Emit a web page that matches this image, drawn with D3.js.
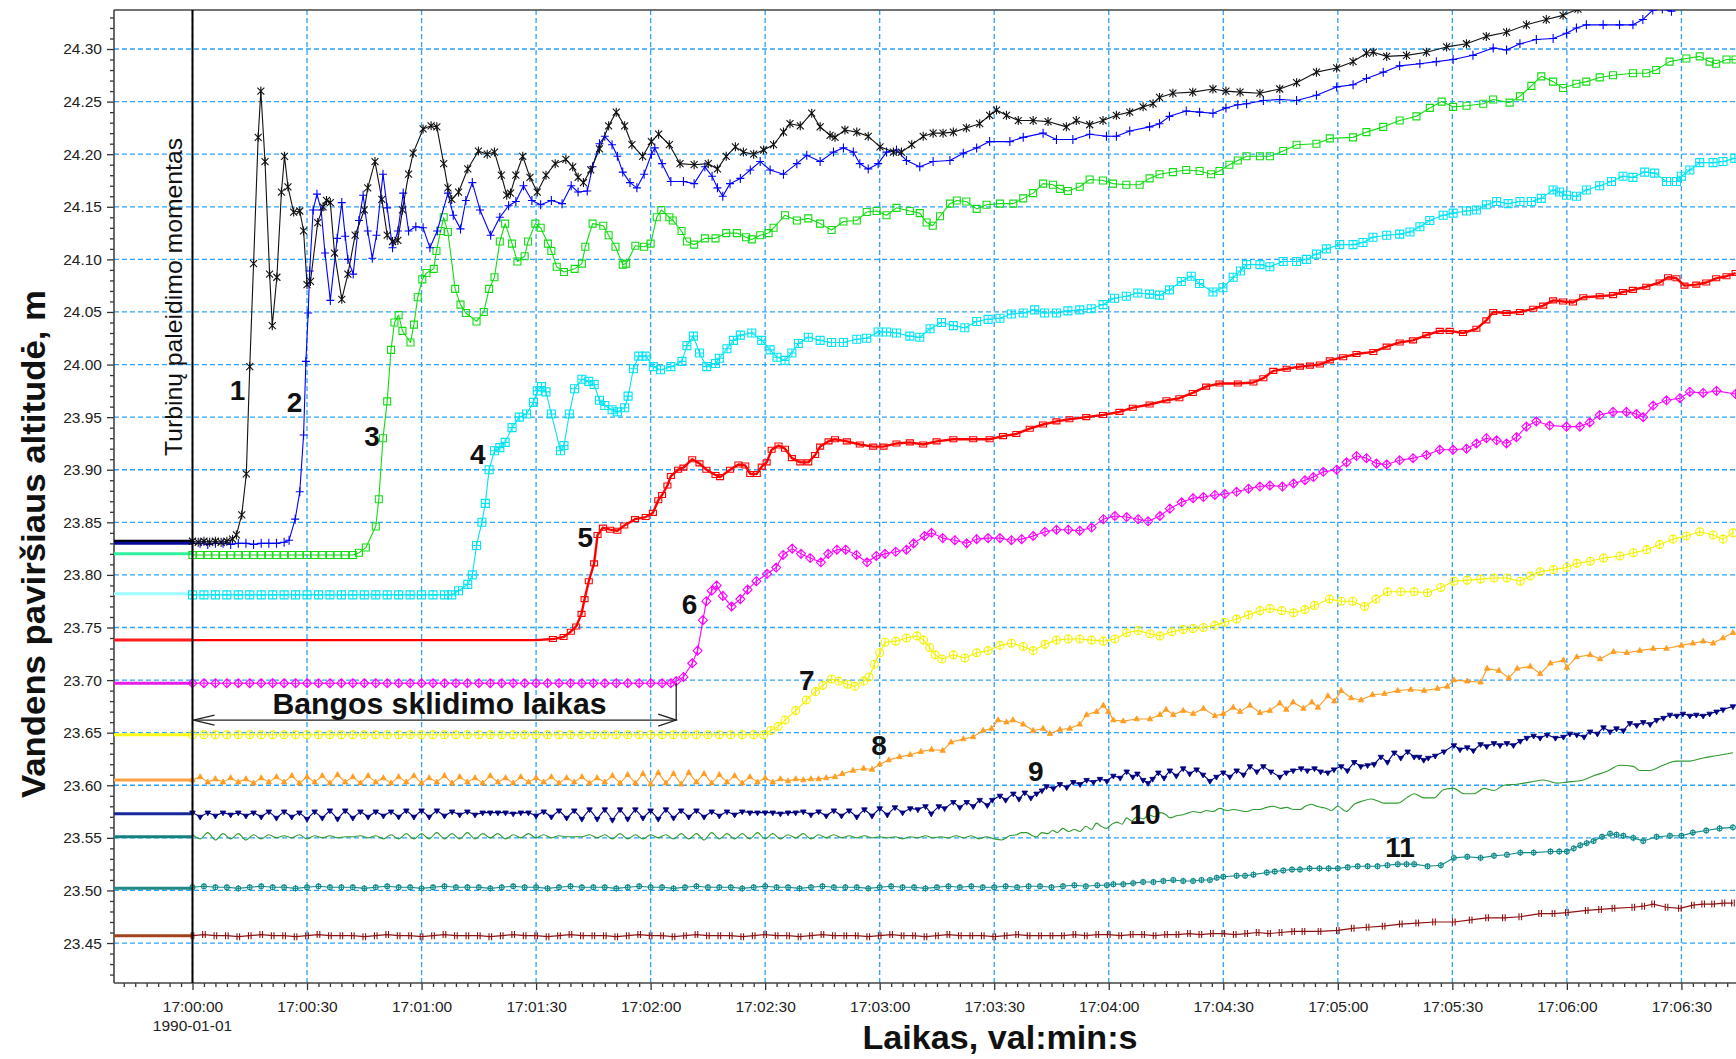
<!DOCTYPE html>
<html>
<head>
<meta charset="utf-8">
<script src="https://cdn.jsdelivr.net/npm/d3@7"></script>
<style>
  html, body { margin: 0; padding: 0; background: #fff; }
  svg { display: block; font-family: "Liberation Sans", Arial, sans-serif; }
</style>
</head>
<body>
<svg id="chart" width="1736" height="1059"></svg>
<script>
// Water surface level at gauges 1–12 after the turbine start (17:00:00).
// Time is in seconds after 17:00:00, level in metres.
// Each gauge: a steady "lead" part sampled at a fixed step from t = 0, then the recorded "trend" points.

const leadStep = [1.5, 2, 2, 3, 30, 3, 3, 2, 2, 2, 3, 3];
const stubLevels = [23.832, 23.830, 23.820, 23.782, 23.738, 23.697, 23.648, 23.605, 23.573, 23.551, 23.502, 23.457];

const lead1 = [23.832,23.831,23.832,23.831,23.832,23.831,23.832,23.834];
const trend1 = [[11.5,23.838],[12.9,23.857],[14.1,23.896],[15.0,23.998],[16.0,24.096],[17.2,24.216],[17.9,24.26],[19.0,24.193],[20.2,24.086],[20.9,24.037],[22.1,24.083],[23.3,24.164],[24.1,24.198],[25.0,24.169],[26.5,24.145],[28.1,24.146],[29.1,24.127],[30.0,24.076],[30.9,24.079],[32.8,24.135],[34.2,24.15],[35.1,24.156],[36.1,24.154],[37.2,24.106],[39.1,24.062],[40.7,24.086],[42.6,24.123],[45.0,24.147],[45.9,24.168],[47.8,24.193],[49.6,24.157],[51.0,24.123],[52.4,24.117],[53.8,24.118],[55.0,24.147],[56.6,24.181],[57.8,24.201],[60.4,24.224],[62.5,24.227],[64.0,24.226],[65.8,24.191],[66.9,24.168],[67.9,24.157],[69.7,24.164],[72.1,24.186],[74.9,24.203],[77.2,24.2],[79.1,24.202],[80.9,24.18],[82.3,24.161],[83.3,24.163],[84.7,24.18],[86.5,24.198],[88.4,24.178],[90.3,24.164],[92.6,24.18],[95.0,24.191],[97.8,24.195],[99.6,24.188],[101.0,24.178],[102.4,24.173],[104.3,24.185],[106.6,24.205],[109.0,24.227],[111.0,24.24],[113.2,24.227],[115.1,24.209],[117.9,24.198],[120.2,24.212],[122.1,24.219],[124.9,24.209],[127.7,24.191],[131.4,24.19],[135.1,24.191],[137.5,24.186],[139.8,24.198],[142.2,24.207],[144.3,24.202],[147,24.2],[149.6,24.204],[152.2,24.209],[154.8,24.221],[156.5,24.229],[159.2,24.227],[162.2,24.239],[164.4,24.226],[167,24.218],[168.3,24.216],[170.9,24.223],[174,24.221],[177,24.217],[180.1,24.207],[183.6,24.202],[185.7,24.202],[188.4,24.209],[191.4,24.217],[194,24.22],[196.6,24.22],[199.3,24.221],[202.7,24.225],[206.2,24.229],[208.8,24.237],[210.6,24.242],[213.2,24.237],[216.3,24.232],[220.2,24.232],[224.1,24.231],[228.9,24.226],[231.5,24.232],[235,24.228],[238.5,24.232],[242,24.237],[245.5,24.24],[249,24.245],[251.6,24.248],[253.3,24.254],[256.8,24.258],[262,24.259],[267.3,24.262],[270.7,24.26],[274.4,24.259],[279.6,24.258],[284.8,24.262],[289.2,24.268],[294.4,24.278],[299.7,24.282],[304,24.288],[307.5,24.296],[309.3,24.297],[312.8,24.293],[318,24.294],[323.2,24.297],[328.5,24.302],[333.7,24.305],[338.9,24.312],[344.2,24.316],[349.4,24.323],[354.6,24.328],[359,24.332],[362.9,24.338],[366,24.342]];

const lead2 = [23.830,23.830,23.829,23.830,23.830,23.829,23.830,23.830,23.829,23.830,23.830,23.830,23.831];
const trend2 = [[25.3,23.833],[26.9,23.853],[28.1,23.879],[29.1,23.933],[29.7,24.003],[30.3,24.049],[30.7,24.089],[31.6,24.147],[32.6,24.162],[33.7,24.147],[34.7,24.106],[36.1,24.061],[37.9,24.12],[39.1,24.154],[40.0,24.122],[40.7,24.1],[42.1,24.086],[43.6,24.137],[44.7,24.161],[45.9,24.127],[47.1,24.101],[48.2,24.123],[49.9,24.181],[51.0,24.149],[52.4,24.111],[53.8,24.127],[55.2,24.163],[56.6,24.127],[58.5,24.131],[60.4,24.13],[62.2,24.111],[64.1,24.127],[66.9,24.163],[68.3,24.142],[70.2,24.129],[71.6,24.156],[73.3,24.173],[75.3,24.147],[78.1,24.123],[80.5,24.14],[82.8,24.151],[84.7,24.155],[86.7,24.17],[88.9,24.156],[91.2,24.152],[94.0,24.156],[96.8,24.153],[99.2,24.17],[101.0,24.164],[103.4,24.165],[104.8,24.188],[106.6,24.21],[108.0,24.217],[109.9,24.209],[111.3,24.198],[112.7,24.183],[114.6,24.173],[116.4,24.168],[118.3,24.181],[120.2,24.2],[121.1,24.206],[123,24.191],[125.3,24.174],[128.6,24.174],[131.4,24.172],[134.2,24.188],[136.1,24.179],[137.5,24.168],[138.9,24.16],[140.8,24.172],[143.5,24.177],[146.1,24.185],[148.7,24.193],[151.3,24.185],[154.8,24.181],[158.3,24.191],[160.9,24.199],[164.4,24.193],[167.9,24.202],[170.5,24.206],[173.1,24.202],[174.8,24.191],[177,24.186],[179.6,24.191],[181.8,24.202],[184.4,24.204],[187,24.194],[190.5,24.188],[194,24.193],[198.4,24.194],[201.9,24.201],[205.4,24.206],[208.8,24.212],[214.1,24.212],[217.6,24.216],[222.8,24.22],[226.3,24.214],[230.6,24.214],[235,24.219],[239.4,24.217],[242,24.217],[245.5,24.222],[250.7,24.226],[253.3,24.229],[255.9,24.236],[260.3,24.241],[263.8,24.24],[267.3,24.239],[270.7,24.244],[273.8,24.247],[276.1,24.248],[280.5,24.251],[284.8,24.252],[289.2,24.251],[294.4,24.256],[299.7,24.264],[304,24.266],[307.5,24.272],[311.9,24.278],[316.2,24.284],[321.5,24.286],[325.8,24.288],[330.2,24.29],[335.4,24.294],[340.7,24.301],[344.2,24.299],[347.7,24.305],[352,24.309],[356.4,24.31],[359.9,24.315],[362.5,24.32],[365.1,24.323],[369.5,24.323],[373.8,24.323],[377.3,24.323],[379.9,24.328],[382.5,24.337],[385,24.338],[387.4,24.336]];

const lead3 = [23.819,23.819,23.819,23.819,23.819,23.819,23.819,23.819,23.819,23.819,23.819,23.819,23.819,23.819,23.819,23.819,23.819,23.819,23.819,23.819,23.819,23.819];
const trend3 = [[43.6,23.821],[45.4,23.826],[48.0,23.846],[48.8,23.872],[49.9,23.93],[51.0,23.965],[52.0,24.014],[52.9,24.04],[54.0,24.047],[55.0,24.032],[57.1,24.021],[58.0,24.038],[59.0,24.064],[60.2,24.081],[61.3,24.087],[63.2,24.091],[63.9,24.108],[65.0,24.127],[65.8,24.14],[66.9,24.126],[68.8,24.072],[70.2,24.057],[71.6,24.049],[74.4,24.041],[76.3,24.05],[77.7,24.072],[79.1,24.083],[80.5,24.117],[81.9,24.134],[83.7,24.115],[85.1,24.098],[87,24.103],[87.9,24.117],[89.8,24.134],[91.2,24.13],[93.1,24.115],[94.0,24.108],[95.4,24.093],[97.3,24.088],[100.1,24.091],[102,24.096],[102.9,24.112],[104.8,24.134],[107.6,24.132],[109,24.123],[110.8,24.112],[112.7,24.095],[113.6,24.096],[116,24.113],[118.3,24.112],[120,24.115],[121.6,24.14],[122.8,24.147],[124.9,24.14],[125.8,24.137],[128.1,24.127],[129.5,24.117],[131.4,24.114],[134.2,24.12],[137,24.12],[139.8,24.125],[142.6,24.125],[145,24.121],[146.5,24.119],[148.7,24.123],[150.9,24.125],[152.2,24.13],[155.2,24.142],[158.3,24.137],[161.3,24.139],[164.4,24.134],[167.4,24.128],[170.5,24.136],[174,24.137],[176.6,24.145],[179.2,24.146],[181.8,24.142],[184.4,24.149],[187.9,24.146],[190.5,24.144],[192.3,24.135],[193.9,24.132],[195.8,24.141],[198.4,24.153],[200.2,24.156],[202.7,24.155],[205.4,24.148],[208,24.152],[211.5,24.153],[215,24.153],[217.6,24.158],[220.2,24.163],[222.8,24.172],[225.4,24.171],[227.2,24.167],[229.3,24.165],[232.4,24.169],[235,24.176],[238.5,24.175],[241.1,24.172],[244.6,24.171],[248.1,24.171],[250.7,24.177],[253.3,24.181],[256.8,24.183],[260.3,24.185],[263.8,24.184],[266.8,24.181],[269,24.184],[271.6,24.19],[273.8,24.194],[276.1,24.198],[279.6,24.198],[282.2,24.198],[285.7,24.203],[289.2,24.209],[294.4,24.21],[297.9,24.215],[304,24.216],[307.5,24.221],[311.9,24.226],[316.2,24.232],[320.6,24.236],[324.1,24.244],[327.2,24.25],[330.2,24.245],[333.7,24.246],[338.1,24.248],[340.7,24.252],[345,24.249],[347.7,24.255],[350.7,24.265],[353.3,24.274],[356.4,24.269],[359,24.263],[362.5,24.267],[365.1,24.269],[368.6,24.273],[372.1,24.275],[377.3,24.277],[380.8,24.277],[383.4,24.28],[386.9,24.288],[391.3,24.291],[394.8,24.293],[397.4,24.288],[399.1,24.286],[401.8,24.29],[404.2,24.29]];

const lead4 = [23.781,23.781,23.781,23.781,23.781,23.781,23.781,23.781,23.781,23.781,23.781,23.781,23.781,23.781,23.781,23.781,23.781,23.781,23.781,23.781,23.781,23.781,23.781];
const trend4 = [[67.9,23.781],[69.7,23.785],[72.1,23.791],[73.3,23.8],[74.4,23.828],[75.8,23.85],[76.7,23.868],[77.7,23.9],[79.1,23.918],[80.5,23.921],[81.9,23.926],[83.7,23.94],[85.6,23.95],[87.5,23.953],[89.3,23.964],[90.3,23.975],[91.4,23.979],[92.6,23.974],[94.0,23.953],[96.4,23.918],[97.3,23.923],[98.7,23.953],[100.1,23.977],[102,23.986],[103.8,23.984],[105.2,23.981],[106.6,23.966],[108,23.961],[109.9,23.957],[111.3,23.955],[113.2,23.959],[114.1,23.97],[115.5,23.996],[116.9,24.008],[118.8,24.008],[120.7,23.998],[122.6,23.995],[125.3,23.998],[128.2,24.003],[129.5,24.018],[131.2,24.027],[132.8,24.011],[134.7,23.998],[137,24.001],[138,24.006],[140,24.015],[141.7,24.023],[143.5,24.028],[146.5,24.03],[149.1,24.023],[151.3,24.014],[153.1,24.007],[155.2,24.004],[157,24.011],[158.7,24.02],[161.3,24.026],[164.4,24.023],[167.4,24.021],[170.5,24.021],[174,24.024],[176.6,24.025],[179.6,24.031],[181.8,24.031],[184.4,24.03],[187.9,24.027],[190.5,24.026],[193.2,24.034],[196.2,24.04],[199.3,24.037],[202.3,24.035],[205.4,24.041],[208.4,24.043],[211.5,24.044],[214.5,24.048],[217.6,24.049],[220.6,24.052],[223.2,24.049],[226.3,24.049],[229.3,24.051],[232.4,24.052],[235.4,24.053],[238.5,24.057],[241.5,24.063],[244.6,24.065],[247.6,24.068],[250.7,24.067],[253.3,24.066],[255.9,24.071],[259,24.079],[261.6,24.084],[263.8,24.077],[267.3,24.069],[269.9,24.073],[272.6,24.083],[274.5,24.089],[276.1,24.095],[279.6,24.095],[282.2,24.093],[285.7,24.098],[289.2,24.098],[291.8,24.1],[294.4,24.105],[297,24.11],[300.5,24.114],[304,24.114],[306.6,24.116],[309.2,24.121],[312.8,24.123],[316.2,24.124],[318.9,24.126],[321.5,24.131],[324.1,24.137],[327.6,24.142],[330.2,24.144],[333.7,24.146],[336.3,24.147],[338.9,24.152],[341.6,24.155],[344.6,24.153],[347.7,24.155],[350.7,24.155],[353.3,24.158],[356.4,24.166],[358.1,24.164],[359.9,24.161],[362.5,24.16],[365.1,24.166],[368.6,24.17],[371.7,24.174],[374.7,24.179],[377.3,24.178],[380.4,24.183],[383,24.182],[386.1,24.174],[388.7,24.174],[390,24.179],[392.2,24.185],[394.8,24.192],[398.3,24.192],[400.9,24.193],[404,24.196]];

const lead5 = [23.738,23.738,23.738,23.738];
const trend5 = [[94.4,23.739],[97.2,23.741],[99.1,23.746],[100.5,23.751],[101.9,23.763],[102.7,23.777],[103.8,23.794],[105.2,23.811],[106.1,23.838],[107.5,23.845],[109.4,23.843],[111.3,23.842],[113.1,23.847],[115.9,23.853],[118.7,23.855],[120.6,23.859],[122,23.871],[123,23.876],[124.4,23.885],[125.3,23.894],[127.2,23.9],[128.6,23.902],[130.9,23.91],[132.8,23.906],[134.6,23.9],[137,23.895],[138.2,23.893],[140.8,23.9],[143,23.905],[144.8,23.904],[146.1,23.896],[147.8,23.896],[149.1,23.903],[150.4,23.907],[151.7,23.919],[153.5,23.923],[155.2,23.92],[157,23.911],[159.2,23.907],[161.3,23.907],[163.1,23.914],[164.4,23.922],[166.6,23.927],[168.3,23.929],[171.4,23.927],[174.8,23.924],[178.3,23.922],[181,23.922],[184.4,23.925],[187.9,23.926],[191.4,23.924],[194.9,23.927],[199.3,23.929],[204.5,23.929],[208.8,23.929],[212.3,23.932],[215.8,23.934],[219.3,23.939],[222.8,23.943],[226.3,23.946],[229.7,23.948],[234.1,23.95],[238.5,23.952],[242.8,23.955],[246.3,23.959],[250.7,23.962],[255.1,23.966],[258.5,23.968],[262,23.973],[265.5,23.979],[269,23.982],[273.8,23.982],[277.9,23.983],[280.5,23.987],[283.1,23.994],[286.6,23.996],[290.1,23.998],[292.7,23.999],[295.3,24.0],[297.9,24.004],[301.4,24.007],[304.9,24.01],[309.3,24.012],[312.8,24.017],[316.2,24.021],[319.7,24.023],[323.2,24.028],[326.7,24.032],[329.3,24.032],[332.8,24.03],[336.3,24.034],[338.9,24.042],[340.7,24.05],[344.2,24.049],[347.7,24.05],[351.2,24.053],[353.8,24.056],[356.4,24.061],[359,24.06],[361.6,24.059],[364.3,24.064],[368.6,24.065],[372.1,24.066],[374.7,24.069],[377.3,24.071],[380.8,24.074],[384.3,24.078],[386.5,24.083],[388.7,24.082],[390.8,24.075],[393.9,24.076],[396.5,24.078],[399.1,24.082],[401.8,24.084],[404.2,24.087]];

const lead6 = [23.697,23.697,23.697,23.697,23.697,23.697,23.697,23.697,23.697,23.697,23.697,23.697,23.697,23.697,23.697,23.697,23.697,23.697,23.697,23.697,23.697,23.697,23.697,23.697,23.697,23.697,23.697,23.697,23.697,23.697,23.697,23.697,23.697,23.697,23.697,23.697,23.697,23.697,23.697,23.697,23.697,23.697];
const trend6 = [[125.3,23.697],[126.7,23.699],[128.6,23.703],[130.9,23.716],[132.3,23.728],[133.7,23.757],[134.6,23.775],[136,23.785],[137.3,23.79],[138.9,23.78],[141.2,23.77],[143.5,23.777],[145.4,23.786],[147.7,23.794],[150.5,23.801],[152.9,23.807],[154.7,23.819],[157.1,23.825],[159.4,23.82],[161.8,23.816],[164.6,23.812],[166.5,23.82],[168.8,23.824],[171.1,23.824],[173.9,23.819],[176.7,23.812],[179.1,23.818],[181.4,23.82],[184.2,23.822],[187,23.824],[188.9,23.83],[191.7,23.837],[193.6,23.84],[196.5,23.835],[199.7,23.833],[202.8,23.83],[205.4,23.834],[208.4,23.835],[211.5,23.835],[214.5,23.833],[217.2,23.834],[220.2,23.837],[223.3,23.841],[226.3,23.843],[229.4,23.843],[232.4,23.842],[235.5,23.845],[238.6,23.853],[241.6,23.856],[244.7,23.855],[247.7,23.853],[250.3,23.851],[253.4,23.856],[256,23.863],[259.1,23.869],[262.1,23.873],[264.8,23.874],[267.8,23.876],[270.4,23.877],[273.5,23.879],[276.6,23.882],[279.6,23.884],[282.2,23.885],[285.5,23.884],[288.4,23.887],[291.4,23.89],[293.6,23.893],[296.2,23.898],[299.7,23.9],[302.3,23.907],[304.9,23.913],[307.5,23.911],[310.1,23.906],[312.8,23.905],[316.2,23.909],[319.7,23.911],[323.2,23.914],[326.7,23.919],[330.2,23.919],[333.7,23.92],[336.3,23.925],[338.9,23.93],[341.6,23.928],[344.2,23.925],[346.8,23.931],[349.4,23.941],[352,23.946],[355.5,23.942],[359.9,23.941],[363.4,23.941],[366,23.945],[368.6,23.952],[372.1,23.955],[375.6,23.955],[378.2,23.953],[380,23.95],[382.6,23.961],[386.1,23.966],[389.6,23.968],[392.2,23.974],[395.7,23.973],[399.2,23.975],[404.2,23.972]];

const lead7 = [23.648,23.648,23.648,23.648,23.648,23.648,23.648,23.648,23.648,23.648,23.648,23.648,23.648,23.648,23.648,23.648,23.648,23.648,23.648,23.648,23.648,23.648,23.648,23.648,23.648,23.648,23.648,23.648,23.648,23.648,23.648,23.648,23.648,23.648,23.648,23.648,23.648,23.648,23.648,23.648,23.648,23.648,23.648,23.648,23.648,23.648,23.648,23.648,23.648,23.648];
const trend7 = [[149.6,23.648],[151.5,23.652],[153.4,23.656],[155.2,23.662],[158,23.671],[160.8,23.681],[163.2,23.689],[165.1,23.695],[167.4,23.701],[169.3,23.699],[171.6,23.696],[173.5,23.694],[175.8,23.699],[177.2,23.703],[178.6,23.715],[180,23.726],[181.4,23.736],[184.2,23.737],[187,23.74],[189.8,23.742],[191.5,23.738],[193.1,23.731],[194.5,23.724],[196.3,23.72],[199.3,23.724],[202.3,23.721],[205.4,23.726],[208.4,23.728],[211.5,23.733],[214.5,23.735],[217.6,23.732],[220.2,23.728],[223.3,23.734],[226.3,23.738],[229.4,23.739],[232.4,23.739],[235.5,23.738],[238.6,23.737],[241.6,23.739],[244.7,23.745],[247.7,23.747],[250.8,23.744],[253.4,23.742],[256.5,23.746],[259.5,23.748],[262.1,23.749],[264.8,23.75],[267.8,23.752],[270.4,23.755],[273.5,23.758],[276.6,23.762],[279.6,23.766],[282.2,23.768],[285.3,23.766],[288.4,23.764],[291.4,23.767],[293.9,23.771],[297.8,23.777],[300.9,23.775],[303.9,23.775],[307,23.77],[310,23.777],[313,23.784],[316.5,23.784],[320,23.784],[323.5,23.783],[327,23.788],[330.4,23.794],[333.9,23.795],[337.4,23.796],[340.9,23.797],[344.3,23.797],[347.8,23.794],[350.4,23.799],[353,23.803],[356.5,23.805],[360,23.807],[362.6,23.811],[366.1,23.813],[369.6,23.816],[373.9,23.818],[377.4,23.821],[380.9,23.824],[384.3,23.829],[387.8,23.834],[391.3,23.837],[394.8,23.841],[398.3,23.838],[400.9,23.834],[403.5,23.84]];

const lead8 = [23.605,23.608,23.603,23.606,23.603,23.607,23.603,23.606,23.602,23.607,
  23.603,23.608,23.603,23.609,23.602,23.608,23.603,23.609,23.602,23.610,
  23.603,23.608,23.602,23.609,23.603,23.607,23.602,23.608,23.603,23.609,
  23.602,23.607,23.603,23.609,23.602,23.608,23.603,23.607,23.602,23.609,
  23.603,23.607,23.602,23.608,23.603,23.607,23.603,23.608,23.602,23.607,
  23.603,23.608,23.602,23.607,23.603,23.609,23.602,23.610,23.602,23.611,
  23.601,23.612,23.602,23.611,23.601,23.612,23.603,23.611,23.602,23.610,
  23.603,23.609,23.602,23.608,23.603,23.607,23.603,23.606,23.604,23.606,
  23.605,23.606,23.606,23.607];
const trend8 = [[168.3,23.608],[170.2,23.611],[173,23.614],[175.8,23.616],[178,23.615],[180,23.62],[182.4,23.624],[185.2,23.627],[188,23.629],[190.8,23.632],[193.6,23.634],[196.5,23.633],[198.7,23.641],[201.9,23.644],[204.5,23.646],[207.1,23.652],[209.3,23.654],[211,23.662],[213.2,23.66],[214.9,23.662],[217.6,23.658],[220.2,23.652],[222.8,23.654],[224.6,23.649],[227.2,23.653],[229.8,23.654],[232.4,23.658],[234.2,23.667],[236.8,23.67],[238.6,23.676],[239.9,23.67],[241.2,23.662],[243.8,23.661],[247.3,23.663],[250.8,23.663],[253.4,23.667],[255,23.672],[256.9,23.667],[259.5,23.671],[262.1,23.668],[264.8,23.673],[267.8,23.666],[270,23.668],[272.6,23.674],[274.4,23.67],[277,23.676],[279.6,23.669],[282.2,23.671],[284.8,23.678],[286.5,23.672],[288.3,23.679],[291,23.673],[293.2,23.679],[294.8,23.674],[297.4,23.685],[299.1,23.68],[300.9,23.69],[303.5,23.683],[306.1,23.681],[309.1,23.686],[312.2,23.687],[315.7,23.69],[319.1,23.691],[322.6,23.69],[326.1,23.692],[328.7,23.694],[330.4,23.7],[333.9,23.699],[337.4,23.698],[339.1,23.711],[342.2,23.709],[344.8,23.702],[347,23.711],[350.4,23.713],[353,23.706],[355.7,23.716],[359.1,23.719],[360,23.712],[362.6,23.722],[366.1,23.724],[368.7,23.72],[372.2,23.727],[375.7,23.726],[379.1,23.728],[382.6,23.73],[386.1,23.73],[390,23.733],[393,23.735],[395.7,23.737],[398.3,23.735],[400.9,23.74],[403.5,23.745]];

const lead9 = [23.574,23.570,23.574,23.571,23.574,23.572,23.574,23.571,23.574,23.570,
  23.575,23.569,23.575,23.570,23.574,23.568,23.575,23.569,23.576,23.568,
  23.576,23.569,23.575,23.570,23.575,23.571,23.575,23.570,23.576,23.570,
  23.576,23.570,23.576,23.571,23.575,23.572,23.575,23.572,23.574,23.574,
  23.574,23.574,23.573,23.574,23.574,23.571,23.575,23.570,23.576,23.569,
  23.576,23.568,23.577,23.568,23.577,23.567,23.577,23.568,23.577,23.569,
  23.576,23.568,23.577,23.569,23.576,23.570,23.576,23.570,23.575,23.571,
  23.575,23.572,23.575,23.574,23.574,23.574,23.574,23.573,23.574,23.574,
  23.575,23.572,23.575,23.571,23.576,23.571,23.576,23.570,23.577,23.571,
  23.578,23.572,23.579];
const trend9 = [[186,23.574],[188,23.578],[190,23.577],[192,23.58],[193.5,23.573],[195.5,23.58],[197,23.578],[199.3,23.584],[201,23.579],[202.8,23.584],[204.5,23.58],[206.2,23.586],[208.2,23.581],[209.5,23.586],[211.5,23.59],[213,23.586],[215,23.592],[216.5,23.587],[218,23.593],[219.6,23.588],[221.1,23.592],[222.5,23.595],[223.7,23.599],[225.5,23.597],[227.2,23.601],[229,23.598],[230.7,23.603],[232.5,23.601],[234.2,23.605],[236,23.603],[237.7,23.606],[239.5,23.604],[241.2,23.609],[243,23.607],[244.7,23.613],[246.3,23.608],[247.5,23.611],[249,23.605],[250.3,23.602],[251.5,23.606],[253,23.612],[254.5,23.607],[256,23.614],[257.7,23.609],[259.5,23.616],[261.2,23.611],[263,23.615],[264.7,23.61],[266.5,23.604],[268.2,23.608],[270,23.612],[271.7,23.608],[273.5,23.614],[275.3,23.61],[277,23.618],[278.8,23.613],[280.5,23.618],[282.5,23.613],[284.8,23.608],[286.5,23.612],[288.3,23.614],[290.4,23.616],[292,23.614],[293.9,23.616],[295.5,23.613],[297.4,23.612],[299,23.615],[300.9,23.618],[302.5,23.614],[304.3,23.622],[306,23.618],[307.8,23.619],[309.5,23.62],[311.3,23.627],[313,23.622],[314.8,23.631],[316.5,23.626],[318.3,23.632],[320,23.627],[321.3,23.627],[322.5,23.624],[323.7,23.626],[325.5,23.628],[327.8,23.632],[330.4,23.638],[332,23.634],[333.9,23.636],[335.5,23.633],[337.4,23.639],[339,23.637],[340.9,23.64],[342.5,23.638],[344.3,23.64],[346,23.638],[347.8,23.642],[349.5,23.645],[351.3,23.647],[353,23.645],[354.8,23.648],[357,23.645],[359.1,23.646],[360.8,23.649],[362.6,23.648],[364.5,23.646],[366.1,23.651],[368,23.649],[369.6,23.655],[371.3,23.651],[373,23.654],[374.8,23.652],[376.5,23.659],[378.3,23.657],[380,23.66],[381.8,23.658],[383.5,23.662],[385.3,23.664],[387,23.667],[388.8,23.666],[390.4,23.668],[392.2,23.666],[393.9,23.667],[395.7,23.666],[397.4,23.668],[399.2,23.67],[400.9,23.672],[403.5,23.675]];

const lead10 = [23.553,23.549,23.555,23.548,23.554,23.549,23.554,23.548,23.553,23.549,
  23.553,23.550,23.552,23.550,23.553,23.549,23.552,23.550,23.552,23.550,
  23.551,23.551,23.552,23.550,23.552,23.549,23.553,23.549,23.554,23.549,
  23.554,23.549,23.555,23.549,23.554,23.549,23.555,23.549,23.554,23.550,
  23.554,23.549,23.553,23.550,23.554,23.550,23.553,23.550,23.552,23.551,
  23.551,23.551,23.553,23.550,23.553,23.549,23.554,23.549,23.553,23.549,
  23.553,23.550,23.553,23.549,23.554,23.549,23.554,23.548,23.555,23.549,
  23.554,23.549,23.554,23.549,23.555,23.549,23.554,23.549,23.553,23.550,
  23.554,23.549,23.553,23.550,23.553,23.550,23.552,23.550,23.552,23.550,
  23.551,23.550,23.551,23.549,23.551,23.550,23.552,23.550,23.551,23.550,
  23.552,23.550,23.552,23.549,23.551];
const trend10 = [[210,23.549],[212,23.548],[214,23.552],[215.9,23.553],[217.2,23.555],[218.5,23.555],[220,23.552],[221.1,23.551],[222.5,23.555],[224,23.554],[225.3,23.557],[226.5,23.555],[228,23.559],[229.5,23.556],[231,23.558],[232.5,23.556],[234,23.561],[235.5,23.558],[236.8,23.564],[238,23.561],[239.4,23.559],[240.8,23.563],[242.1,23.565],[243.5,23.563],[244.7,23.569],[246,23.566],[247.4,23.57],[249,23.568],[250.5,23.572],[252,23.57],[253.5,23.574],[255,23.572],[256,23.569],[257.8,23.571],[259.5,23.572],[261,23.574],[262.1,23.575],[264,23.574],[265.6,23.576],[267.3,23.575],[269.1,23.578],[271,23.576],[272.6,23.577],[274.3,23.576],[276.1,23.575],[278,23.577],[279.6,23.577],[281.4,23.579],[283.1,23.58],[285,23.578],[286.6,23.579],[288.4,23.577],[290.1,23.577],[291.5,23.58],[293,23.582],[294.4,23.58],[295.7,23.579],[297,23.578],[298.3,23.576],[300,23.58],[302.2,23.575],[304.3,23.582],[306.5,23.585],[308.7,23.587],[310.5,23.585],[312.2,23.583],[315.7,23.583],[318,23.588],[320,23.592],[322.6,23.588],[325.2,23.588],[327.8,23.596],[330.4,23.597],[333,23.592],[335.7,23.592],[338.3,23.597],[340.9,23.595],[343.5,23.6],[347,23.601],[350.4,23.603],[353.9,23.605],[357.4,23.602],[360,23.603],[364.3,23.605],[367,23.609],[370.4,23.613],[373.9,23.619],[377.4,23.618],[379.1,23.614],[381.7,23.614],[385.2,23.619],[388.7,23.623],[392.2,23.623],[395.7,23.626],[399.1,23.628],[403.5,23.631]];

const lead11 = [23.503,23.504,23.503,23.503,23.502,23.503,23.504,23.503,23.503,23.502,
  23.503,23.504,23.503,23.503,23.503,23.502,23.503,23.504,23.503,23.503,
  23.502,23.503,23.504,23.503,23.503,23.503,23.502,23.503,23.504,23.503,
  23.503,23.502,23.503,23.504,23.503,23.503,23.503,23.502,23.503,23.504,
  23.503,23.503,23.502,23.503,23.504,23.503,23.503,23.503,23.502,23.503,
  23.504,23.503,23.503,23.502,23.503,23.504,23.503,23.503,23.503,23.502,
  23.503,23.504,23.503,23.503,23.502,23.503,23.504,23.503,23.504,23.503,
  23.503,23.504,23.503,23.504,23.504,23.503,23.504,23.505,23.504];
const trend11 = [[237,23.505],[239.5,23.505],[241.2,23.506],[243.8,23.506],[246.4,23.507],[249,23.508],[251.7,23.508],[254.3,23.509],[256.9,23.51],[259.5,23.509],[262.1,23.509],[264.3,23.51],[266.5,23.51],[268.3,23.512],[270,23.513],[273.5,23.514],[275.7,23.514],[277.9,23.515],[281.4,23.517],[283.5,23.518],[285.7,23.519],[288,23.52],[290.1,23.52],[292.6,23.521],[295.2,23.521],[297.6,23.521],[300,23.521],[302.6,23.522],[305.2,23.523],[307.8,23.523],[310.4,23.523],[313,23.524],[315.7,23.525],[318,23.525],[320,23.525],[323.5,23.523],[327,23.524],[330.4,23.531],[333.9,23.532],[337.4,23.531],[340.9,23.533],[344.3,23.534],[347.8,23.536],[351.3,23.536],[355.7,23.537],[358,23.537],[360,23.537],[361.8,23.54],[363.5,23.543],[365.2,23.545],[367,23.547],[369.2,23.551],[371.3,23.554],[373,23.553],[374.8,23.552],[377.4,23.55],[380,23.547],[383.5,23.551],[387,23.552],[390,23.552],[393,23.555],[396.5,23.557],[400,23.559],[403.5,23.56]];

const lead12 = [23.457,23.458,23.457,23.457,23.456,23.457,23.458,23.457,23.457,23.456,
  23.457,23.458,23.457,23.457,23.457,23.456,23.457,23.458,23.457,23.457,
  23.456,23.457,23.458,23.457,23.457,23.457,23.456,23.457,23.458,23.457,
  23.457,23.456,23.457,23.458,23.457,23.457,23.457,23.456,23.457,23.458,
  23.457,23.457,23.456,23.457,23.458,23.457,23.457,23.457,23.456,23.457,
  23.458,23.457,23.457,23.456,23.457,23.458,23.457,23.457,23.457,23.456,
  23.457,23.458,23.457,23.457,23.456,23.457,23.458,23.457,23.457,23.457,
  23.456,23.457,23.458,23.457,23.457,23.457,23.457,23.458,23.457,23.458,
  23.458,23.457,23.458,23.458,23.457,23.458,23.458,23.459,23.458,23.459,
  23.459,23.458,23.459,23.460,23.459,23.460];
const trend12 = [[288.3,23.461],[291,23.461],[295.2,23.461],[300,23.462],[303.9,23.464],[307.8,23.465],[312,23.466],[316.5,23.468],[320.8,23.469],[325.2,23.47],[330.4,23.47],[334.8,23.472],[339.1,23.474],[343.5,23.474],[347.8,23.475],[353,23.478],[356.5,23.478],[360,23.479],[365.2,23.481],[368.7,23.482],[372.2,23.483],[377.4,23.484],[380,23.485],[382.6,23.487],[386.1,23.484],[389.6,23.483],[393,23.486],[395.7,23.487],[398.3,23.487],[401,23.488],[403.5,23.488]];

// axis ticks
const xTickSeconds = [0, 30, 60, 90, 120, 150, 180, 210, 240, 270, 300, 330, 360, 390];
const yTicks = [23.45, 23.50, 23.55, 23.60, 23.65, 23.70, 23.75, 23.80, 23.85, 23.90, 23.95, 24.00, 24.05, 24.10, 24.15, 24.20, 24.25, 24.30];
const dateLabel = "1990-01-01";

// gauge number labels, anchored in data coordinates [seconds, level]
const gaugeLabels = [["1",11.8,23.976],["2",26.7,23.964],["3",47.0,23.932],["4",74.7,23.915],["5",102.9,23.836],["6",130.2,23.772],["7",160.9,23.700],["8",179.8,23.638],["9",220.9,23.614],["10",249.5,23.573],["11",316.3,23.541]];

// wave travel-time arrow: from the start to the arrival at gauge 6
const travelSpan = [0, 126.7];
const travelLevel = 23.662;

// ---------------------------------------------------------------------------
const startMs = Date.UTC(1990, 0, 1, 17, 0, 0);
const toDate = s => new Date(startMs + s * 1000);

const svg = d3.select("#chart");
const P = { left: 114, top: 10, right: 1736, bottom: 983 };

const x = d3.scaleUtc().domain([toDate(-20.56), toDate(404.3)]).range([P.left, P.right]);
const y = d3.scaleLinear().domain([23.412, 24.3371]).range([P.bottom, P.top]);
const X = s => x(toDate(s));

svg.append("defs").append("clipPath").attr("id", "plotClip")
  .append("rect").attr("x", P.left).attr("y", P.top)
  .attr("width", P.right - P.left).attr("height", P.bottom - P.top);

// grid
const grid = svg.append("g").attr("stroke", "#2ea3f7").attr("stroke-width", 1.3).attr("stroke-dasharray", "5,3");
grid.selectAll("line.gx").data(xTickSeconds).join("line")
  .attr("x1", d => X(d)).attr("x2", d => X(d)).attr("y1", P.top).attr("y2", P.bottom);
grid.selectAll("line.gy").data(yTicks).join("line")
  .attr("x1", P.left).attr("x2", P.right).attr("y1", d => y(d)).attr("y2", d => y(d));

// axes
const minorX = d3.range(-18, 405, 3).filter(s => s % 30 !== 0).map(toDate);
const minorY = d3.range(2342, 2434, 1).map(v => v / 100).filter(v => Math.round(v * 100) % 5 !== 0);

const xAxisMinor = svg.append("g").attr("transform", `translate(0,${P.bottom})`)
  .call(d3.axisBottom(x).tickValues(minorX).tickSize(4).tickFormat(""));
const xAxis = svg.append("g").attr("transform", `translate(0,${P.bottom})`)
  .call(d3.axisBottom(x).tickValues(xTickSeconds.map(toDate)).tickSize(7).tickPadding(11)
    .tickFormat(d3.utcFormat("%H:%M:%S")));
const yAxisMinor = svg.append("g").attr("transform", `translate(${P.left},0)`)
  .call(d3.axisLeft(y).tickValues(minorY).tickSize(4).tickFormat(""));
const yAxis = svg.append("g").attr("transform", `translate(${P.left},0)`)
  .call(d3.axisLeft(y).tickValues(yTicks).tickSize(7).tickPadding(5).tickFormat(d3.format(".2f")));

[xAxisMinor, xAxis, yAxisMinor, yAxis].forEach(g => {
  g.select(".domain").remove();
  g.selectAll(".tick line").attr("stroke", "#333").attr("stroke-width", 1.3);
  g.selectAll(".tick text").attr("fill", "#222").style("font-size", "15.5px")
    .style("font-family", '"Liberation Sans", Arial, sans-serif');
});

svg.append("text").attr("x", X(0)).attr("y", 1031).attr("text-anchor", "middle")
  .attr("fill", "#222").style("font-size", "15.5px").text(dateLabel);

// frame
const frame = svg.append("g").attr("stroke", "#444").attr("stroke-width", 1.6).attr("fill", "none");
frame.append("line").attr("x1", P.left).attr("x2", P.right).attr("y1", P.top).attr("y2", P.top);
frame.append("line").attr("x1", P.left).attr("x2", P.right).attr("y1", P.bottom).attr("y2", P.bottom);
frame.append("line").attr("x1", P.left).attr("x2", P.left).attr("y1", P.top).attr("y2", P.bottom);

// marker glyphs (path strings centred at 0,0)
const glyph = {
  star: "M-3.5,-3.5L3.5,3.5M-3.5,3.5L3.5,-3.5M0,-4.5V4.5",
  plus: "M-4,0H4M0,-4.5V4.5",
  square: "M-3.5,-3.5H3.5V3.5H-3.5Z",
  squareCross: "M-4,-4H4V4H-4ZM-4,0H4M0,-4V4",
  rectBar: "M-3.5,-2.5H3.5V2.5H-3.5Z",
  diamondCross: "M0,-4.5L4.5,0L0,4.5L-4.5,0ZM0,-4.5V4.5",
  circleCross: "M4,0A4,4,0,1,1,-4,0A4,4,0,1,1,4,0ZM0,-4V4",
  triUp: "M0,-3.2L2.7,1.8H-2.7Z",
  triDown: "M-2.8,-1.6H2.8L0,3.2Z",
  circleBar: "M2.4,0A2.4,2.4,0,1,1,-2.4,0A2.4,2.4,0,1,1,2.4,0ZM0,-3.3V3.3",
  doubleBar: "M-1.3,-3.5V3.5M1.3,-3.5V3.5"
};

const series = [
  { lead: lead1,  trend: trend1,  color: "#111111", stub: "#000000", marker: "star",         width: 1.1 },
  { lead: lead2,  trend: trend2,  color: "#0000ff", stub: "#0a0a9a", marker: "plus",         width: 1.1 },
  { lead: lead3,  trend: trend3,  color: "#11dd11", stub: "#2ef29c", marker: "square",       width: 1.1 },
  { lead: lead4,  trend: trend4,  color: "#00e4f4", stub: "#9ffcff", marker: "squareCross",  width: 1.1 },
  { lead: lead5,  trend: trend5,  color: "#ff0000", stub: "#ff1a1a", marker: "rectBar",      width: 2.4, trendMarksOnly: true },
  { lead: lead6,  trend: trend6,  color: "#ff00ff", stub: "#e81ce8", marker: "diamondCross", width: 1.1 },
  { lead: lead7,  trend: trend7,  color: "#f2f200", stub: "#ffff1a", marker: "circleCross",  width: 1.1 },
  { lead: lead8,  trend: trend8,  color: "#ff9c22", stub: "#ffa040", marker: "triUp",        width: 1.1, filled: true },
  { lead: lead9,  trend: trend9,  color: "#000080", stub: "#17289a", marker: "triDown",      width: 1.1, filled: true },
  { lead: lead10, trend: trend10, color: "#2f9a2f", stub: "#158080", marker: null,           width: 1.1, smooth: true },
  { lead: lead11, trend: trend11, color: "#118a8a", stub: "#208888", marker: "circleBar",    width: 1.1 },
  { lead: lead12, trend: trend12, color: "#8f1111", stub: "#a2421c", marker: "doubleBar",    width: 1.2 }
];
series.forEach((s, i) => {
  s.points = s.lead.map((v, k) => [k * leadStep[i], v]).concat(s.trend);
  s.level0 = stubLevels[i];
});

// initial levels drawn before the start
svg.append("g").selectAll("line").data(series).join("line")
  .attr("x1", P.left).attr("x2", X(0))
  .attr("y1", d => y(d.level0)).attr("y2", d => y(d.level0))
  .attr("stroke", d => d.stub).attr("stroke-width", 3);

const plotArea = svg.append("g").attr("clip-path", "url(#plotClip)");
const lineGen = d3.line().x(d => X(d[0])).y(d => y(d[1]));
const smoothGen = d3.line().x(d => X(d[0])).y(d => y(d[1])).curve(d3.curveMonotoneX);

series.slice().reverse().forEach(s => {
  const g = plotArea.append("g");
  g.append("path").datum(s.points)
    .attr("d", s.smooth ? smoothGen : lineGen)
    .attr("fill", "none").attr("stroke", s.color).attr("stroke-width", s.width)
    .attr("stroke-linejoin", "round");
  if (s.marker) {
    const marked = s.trendMarksOnly ? s.trend : s.points;
    g.selectAll("path.m").data(marked).join("path").attr("class", "m")
      .attr("d", glyph[s.marker])
      .attr("transform", d => `translate(${X(d[0])},${y(d[1])})`)
      .attr("fill", s.filled ? s.color : "none")
      .attr("stroke", s.color).attr("stroke-width", s.filled ? 0.8 : 1.1);
  }
});

// start moment
svg.append("line").attr("x1", X(0)).attr("x2", X(0)).attr("y1", P.top).attr("y2", P.bottom)
  .attr("stroke", "#000").attr("stroke-width", 2);
svg.append("text")
  .attr("transform", `translate(${X(0) - 10},297) rotate(-90)`)
  .attr("text-anchor", "middle").attr("fill", "#111").style("font-size", "24px")
  .attr("textLength", 318).attr("lengthAdjust", "spacingAndGlyphs")
  .text("Turbinų paleidimo momentas");

// wave travel time arrow
const ay = y(travelLevel), ax0 = X(travelSpan[0]), ax1 = X(travelSpan[1]);
const arrow = svg.append("g").attr("stroke", "#222").attr("stroke-width", 1.3).attr("fill", "none");
arrow.append("path").attr("d", `M${ax0},${ay}H${ax1}V${y(stubLevels[5])}`);
arrow.append("path").attr("d", `M${ax0 + 22},${ay - 5}L${ax0 + 1},${ay}L${ax0 + 22},${ay + 5}`);
arrow.append("path").attr("d", `M${ax1 - 18},${ay - 6}L${ax1},${ay}L${ax1 - 18},${ay + 6}`);
svg.append("text").attr("x", X(64.7)).attr("y", ay - 6).attr("text-anchor", "middle")
  .attr("fill", "#111").style("font-size", "29px").style("font-weight", "bold")
  .attr("textLength", 334).attr("lengthAdjust", "spacingAndGlyphs")
  .text("Bangos  sklidimo laikas");

// gauge numbers
svg.append("g").selectAll("text").data(gaugeLabels).join("text")
  .attr("x", d => X(d[1])).attr("y", d => y(d[2])).attr("dy", "0.36em")
  .attr("text-anchor", "middle").attr("fill", "#111")
  .style("font-size", "28px").style("font-weight", "bold")
  .text(d => d[0]);

// axis titles
svg.append("text").attr("transform", "translate(45,544) rotate(-90)")
  .attr("text-anchor", "middle").attr("fill", "#111")
  .style("font-size", "34px").style("font-weight", "bold")
  .attr("textLength", 508).attr("lengthAdjust", "spacingAndGlyphs")
  .text("Vandens paviršiaus altitudė, m");
svg.append("text").attr("x", 1000).attr("y", 1049).attr("text-anchor", "middle")
  .attr("fill", "#111").style("font-size", "34px").style("font-weight", "bold")
  .attr("textLength", 275).attr("lengthAdjust", "spacingAndGlyphs")
  .text("Laikas, val:min:s");
</script>
</body>
</html>
